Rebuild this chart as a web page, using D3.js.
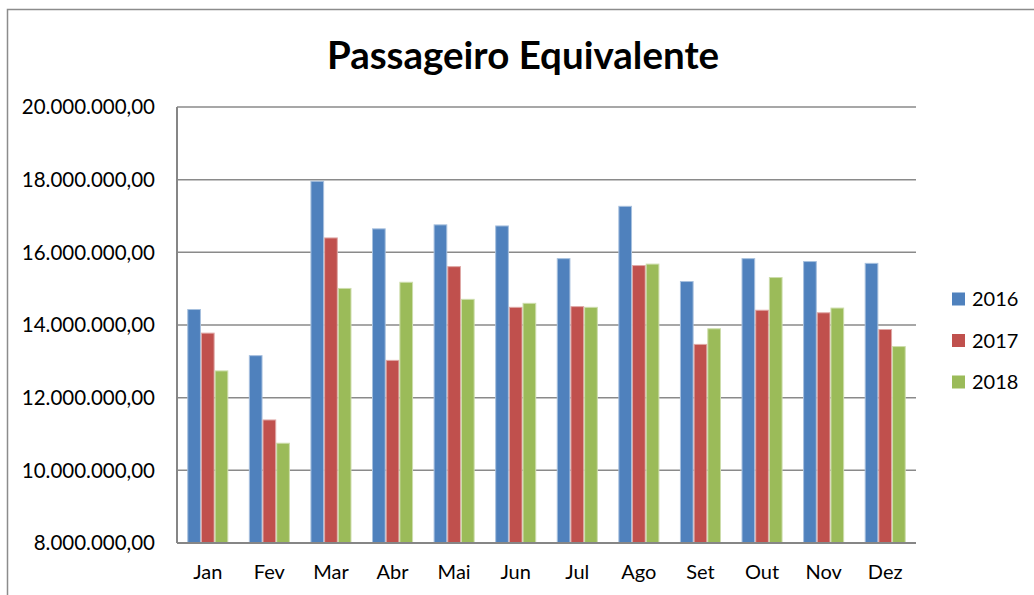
<!DOCTYPE html>
<html lang="pt">
<head>
<meta charset="UTF-8">
<title>Passageiro Equivalente</title>
<script src="https://d3js.org/d3.v7.min.js"></script>
<style>
  body { margin: 0; background: #fff; }
  svg { display: block; font-family: Lato, "Open Sans", sans-serif; }
</style>
</head>
<body>
<svg id="chart" width="1034" height="595"></svg>
<script>
// dados
const meses = ["Jan", "Fev", "Mar", "Abr", "Mai", "Jun", "Jul", "Ago", "Set", "Out", "Nov", "Dez"];
const anos = ["2016", "2017", "2018"];
const v2016 = [14440000, 13170000, 17970000, 16660000, 16770000, 16740000, 15840000, 17280000, 15210000, 15840000, 15760000, 15710000];
const v2017 = [13790000, 11400000, 16410000, 13040000, 15620000, 14500000, 14520000, 15650000, 13480000, 14420000, 14350000, 13890000];
const v2018 = [12750000, 10760000, 15020000, 15190000, 14720000, 14610000, 14500000, 15690000, 13910000, 15320000, 14480000, 13420000];
const yTicks = [8000000, 10000000, 12000000, 14000000, 16000000, 18000000, 20000000];
const cores = ["#4F81BD", "#C0504D", "#9BBB59"];
const bordas = ["#A7C0DE", "#DFA8A6", "#CDDDAC"];

const series = [v2016, v2017, v2018];
const svg = d3.select("#chart");

// moldura externa do gráfico
svg.append("rect")
  .attr("x", 7.5).attr("y", 9.5)
  .attr("width", 1040).attr("height", 600)
  .attr("fill", "none").attr("stroke", "#8c8c8c").attr("stroke-width", 1.5);

const plot = { left: 177, right: 916, top: 107, bottom: 543 };

const x = d3.scaleBand().domain(meses).range([plot.left, plot.right]).padding(0);
const barW = x.bandwidth() / 4.5;
const xs = d3.scaleBand().domain(anos).range([0, barW * 3]);
const y = d3.scaleLinear().domain([8000000, 20000000]).range([plot.bottom, plot.top]);

const fmt = v => d3.format(",.2f")(v).replace(/,/g, "#").replace(".", ",").replace(/#/g, ".");

// linhas de grade
svg.append("g").selectAll("line")
  .data(yTicks.slice(1))
  .join("line")
  .attr("x1", plot.left).attr("x2", plot.right)
  .attr("y1", d => y(d)).attr("y2", d => y(d))
  .attr("stroke", "#8a8a8a").attr("stroke-width", 1.5);

// rótulos eixo y
svg.append("g").selectAll("text")
  .data(yTicks)
  .join("text")
  .attr("x", 155).attr("y", d => y(d))
  .attr("dy", "0.36em")
  .attr("text-anchor", "end")
  .attr("font-size", 20.5)
  .attr("fill", "#000")
  .text(fmt);

// barras
const grupos = svg.append("g").selectAll("g")
  .data(series)
  .join("g")
  .attr("fill", (d, i) => cores[i])
  .attr("stroke", (d, i) => bordas[i]);

grupos.selectAll("rect")
  .data((d, i) => d.map((v, j) => ({ mes: meses[j], ano: anos[i], v })))
  .join("rect")
  .attr("x", d => x(d.mes) + (x.bandwidth() - barW * 3) / 2 + xs(d.ano) + 0.5)
  .attr("width", barW - 1)
  .attr("y", d => y(d.v) + 0.5)
  .attr("height", d => y(8000000) - y(d.v) - 0.5)
  .attr("stroke-width", 1);

// eixos
svg.append("line")
  .attr("x1", plot.left).attr("x2", plot.left)
  .attr("y1", plot.top).attr("y2", plot.bottom)
  .attr("stroke", "#868686").attr("stroke-width", 2);
svg.append("line")
  .attr("x1", plot.left).attr("x2", plot.right)
  .attr("y1", plot.bottom).attr("y2", plot.bottom)
  .attr("stroke", "#868686").attr("stroke-width", 2);

// rótulos eixo x
svg.append("g").selectAll("text")
  .data(meses)
  .join("text")
  .attr("x", d => x(d) + x.bandwidth() / 2)
  .attr("y", 579)
  .attr("text-anchor", "middle")
  .attr("font-size", 20)
  .text(d => d);

// título
svg.append("text")
  .attr("x", 523).attr("y", 69)
  .attr("text-anchor", "middle")
  .attr("font-size", 38.5)
  .attr("font-weight", "bold")
  .text("Passageiro Equivalente");

// legenda
const leg = svg.append("g").selectAll("g")
  .data(anos)
  .join("g")
  .attr("transform", (d, i) => `translate(952, ${299 + i * 41.5})`);
leg.append("rect")
  .attr("x", 0).attr("y", -6.5)
  .attr("width", 13).attr("height", 13)
  .attr("fill", (d, i) => cores[i]);
leg.append("text")
  .attr("x", 20).attr("dy", "0.36em")
  .attr("font-size", 20)
  .text(d => d);
</script>
</body>
</html>
